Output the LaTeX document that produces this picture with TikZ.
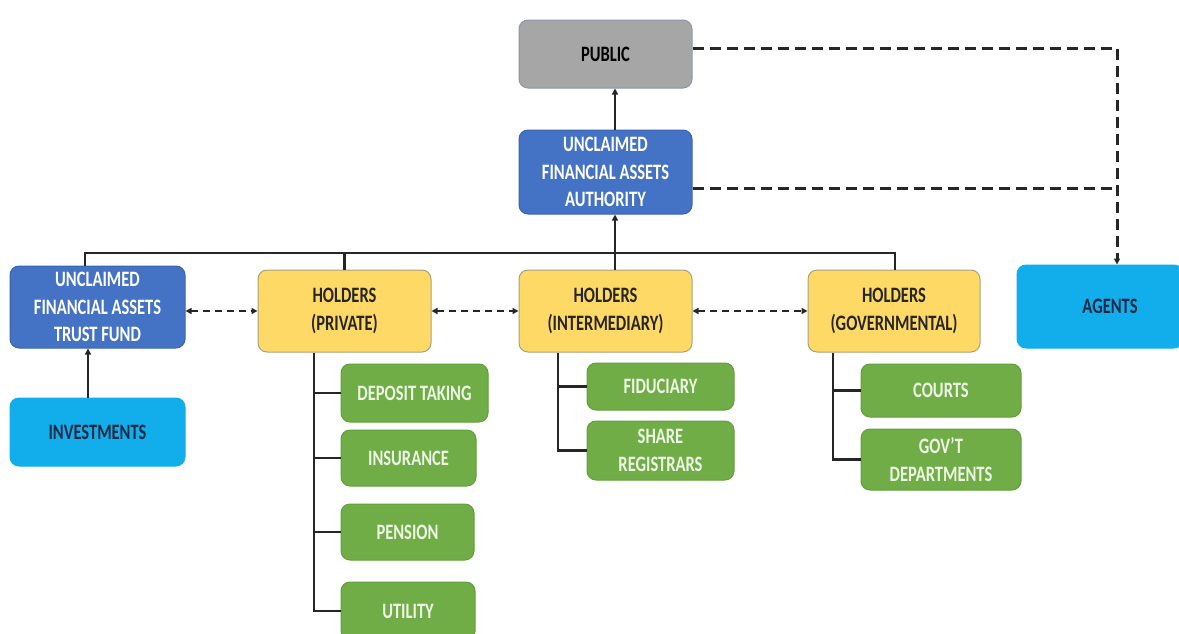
\documentclass[tikz,border=0pt]{standalone}
\usepackage{fontspec}
\setmainfont{Carlito}[FakeStretch=0.75]
\usetikzlibrary{arrows.meta,calc}
\definecolor{cgray}{HTML}{A6A6A6}
\definecolor{cgrayb}{HTML}{8C97A8}
\definecolor{cblue}{HTML}{4472C4}
\definecolor{cblueb}{HTML}{3B64AE}
\definecolor{cyel}{HTML}{FFD966}
\definecolor{cyelb}{HTML}{A8A080}
\definecolor{clb}{HTML}{12AEEC}
\definecolor{cgreen}{HTML}{70AD47}
\definecolor{cgreenb}{HTML}{62A03C}
\definecolor{cgtext}{HTML}{EEF6E6}
\definecolor{cnavy}{HTML}{1B2A44}
\tikzset{
  box/.style={rounded corners=9pt, align=center, inner sep=2pt, line width=1pt,
    font=\fontsize{22}{27.5}\selectfont\bfseries},
  pubbox/.style={box, fill=cgray, draw=cgrayb, text=black},
  bluebox/.style={box, fill=cblue, draw=cblueb, text=white},
  yelbox/.style={box, fill=cyel, draw=cyelb, text=black!85},
  lbbox/.style={box, fill=clb, draw=clb, text=cnavy},
  grbox/.style={box, fill=cgreen, draw=cgreenb, text=cgtext},
  conn/.style={line width=2.6pt, black!85},
  tip/.style={-{Triangle[length=6pt,width=6pt]}},
  dtips/.style={{Triangle[length=6pt,width=6pt]}-{Triangle[length=6pt,width=6pt]}},
  dconn/.style={line width=2.6pt, black!85, dash pattern=on 7pt off 5pt},
  dconnb/.style={line width=3pt, black!85, dash pattern=on 11pt off 6pt},
}
\begin{document}
\begin{tikzpicture}[x=1pt,y=-1pt]
\useasboundingbox (0,0) rectangle (1179,633);
\clip (0,0) rectangle (1179,633);
% nodes
\node[pubbox, minimum width=173pt, minimum height=68pt] (pub) at (605.5,54) {PUBLIC};
\node[bluebox, minimum width=173pt, minimum height=84pt] (auth) at (605.5,172) {UNCLAIMED\\FINANCIAL ASSETS\\AUTHORITY};
\node[bluebox, minimum width=175pt, minimum height=82pt] (tf) at (97.5,307) {UNCLAIMED\\FINANCIAL ASSETS\\TRUST FUND};
\node[lbbox, minimum width=175pt, minimum height=68pt] (inv) at (97.5,432) {INVESTMENTS};
\node[yelbox, minimum width=173pt, minimum height=82pt] (hp) at (344.5,311) {HOLDERS\\(PRIVATE)};
\node[yelbox, minimum width=173pt, minimum height=82pt] (hi) at (605.5,311) {HOLDERS\\(INTERMEDIARY)};
\node[yelbox, minimum width=172pt, minimum height=82pt] (hg) at (894,311) {HOLDERS\\(GOVERNMENTAL)};
\node[lbbox, minimum width=166pt, minimum height=83pt] (ag) at (1100,306.5) {\hspace*{20pt}AGENTS};
\node[grbox, minimum width=147pt, minimum height=58pt] (dep) at (414.5,393) {DEPOSIT TAKING};
\node[grbox, minimum width=135pt, minimum height=56pt] (ins) at (408.5,458) {INSURANCE};
\node[grbox, minimum width=133pt, minimum height=56pt] (pen) at (407.5,532) {PENSION};
\node[grbox, minimum width=134pt, minimum height=58pt] (uti) at (408,611) {UTILITY};
\node[grbox, minimum width=147pt, minimum height=47pt] (fid) at (660.5,386.5) {FIDUCIARY};
\node[grbox, minimum width=147pt, minimum height=59pt] (shr) at (660.5,450.5) {SHARE\\REGISTRARS};
\node[grbox, minimum width=160pt, minimum height=53pt] (crt) at (941,390.5) {COURTS};
\node[grbox, minimum width=160pt, minimum height=61pt] (gov) at (941,459.5) {GOV'T\\DEPARTMENTS};
% bus
\coordinate (b1) at (85,253);
\coordinate (b2) at (895,253);
\draw[conn] (b1 |- tf.north) -- (b1) -- (b2) -- (b2 |- hg.north);
\draw[conn] (hp.north |- b1) -- (hp.north);
\draw[conn,tip] ([xshift=9.5pt]hi.north) -- ([xshift=9.5pt]auth.south);
\draw[conn,tip] ([xshift=9.5pt]auth.north) -- ([xshift=9.5pt]pub.south);
\draw[conn,tip] ([xshift=-9.5pt]inv.north) -- ([xshift=-9.5pt]tf.south);
% dashed holder links
\draw[dconn,dtips] (tf.east |- hp.west) -- (hp.west);
\draw[dconn,dtips] (hp.east) -- (hi.west);
\draw[dconn,dtips] (hi.east) -- (hg.west);
% dashed to agents
\coordinate (agn) at ([xshift=17pt]ag.north);
\draw[dconnb,tip] ([yshift=6pt]pub.east) -| (agn);
\draw[dconnb] ([yshift=-16pt]auth.east) -- ([yshift=-16pt]auth.east -| agn);
% private subtree
\coordinate (ps) at ([xshift=-30.5pt]hp.south);
\draw[conn] (ps) |- (uti.west);
\draw[conn] (ps |- dep.west) -- (dep.west);
\draw[conn] (ps |- ins.west) -- (ins.west);
\draw[conn] (ps |- pen.west) -- (pen.west);
% intermediary subtree
\coordinate (is) at ([xshift=-47.5pt]hi.south);
\draw[conn] (is) |- (shr.west);
\draw[conn] (is |- fid.west) -- (fid.west);
% governmental subtree
\coordinate (gs) at ([xshift=-61pt]hg.south);
\draw[conn] (gs) |- (gov.west);
\draw[conn] (gs |- crt.west) -- (crt.west);
\end{tikzpicture}
\end{document}
